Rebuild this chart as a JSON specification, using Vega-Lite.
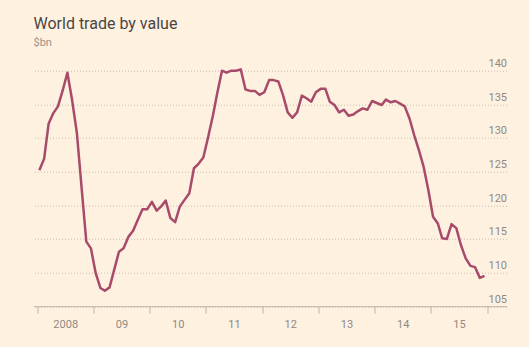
{
  "$schema": "https://vega.github.io/schema/vega-lite/v6.json",
  "width": 473,
  "height": 235.5,
  "autosize": {"type": "none"},
  "padding": {"left": 33.5, "top": 70.7, "right": 22.5, "bottom": 40.8},
  "background": "#FFF1E0",
  "title": {
    "text": "World trade by value",
    "subtitle": "$bn",
    "anchor": "start",
    "frame": "group",
    "font": "Roboto",
    "fontSize": 16,
    "fontWeight": "normal",
    "color": "#4a4643",
    "subtitleFont": "Roboto",
    "subtitleFontSize": 11,
    "subtitleColor": "#9a938c",
    "subtitlePadding": 5,
    "offset": 10
  },
  "config": {
    "view": {"stroke": null},
    "axis": {"labelFont": "Roboto", "labelFontSize": 11, "labelColor": "#8e8984"}
  },
  "data": {
    "values": [
      {"date": "2008-01-15", "value": 125.2},
      {"date": "2008-02-15", "value": 126.9},
      {"date": "2008-03-15", "value": 132.1},
      {"date": "2008-04-15", "value": 133.7},
      {"date": "2008-05-15", "value": 134.7},
      {"date": "2008-06-15", "value": 137.1},
      {"date": "2008-07-15", "value": 139.7},
      {"date": "2008-08-15", "value": 135.6},
      {"date": "2008-09-15", "value": 130.7},
      {"date": "2008-10-15", "value": 122.7},
      {"date": "2008-11-15", "value": 114.6},
      {"date": "2008-12-15", "value": 113.6},
      {"date": "2009-01-15", "value": 109.9},
      {"date": "2009-02-15", "value": 107.7},
      {"date": "2009-03-15", "value": 107.3},
      {"date": "2009-04-15", "value": 107.8},
      {"date": "2009-05-15", "value": 110.4},
      {"date": "2009-06-15", "value": 113.1},
      {"date": "2009-07-15", "value": 113.6},
      {"date": "2009-08-15", "value": 115.3},
      {"date": "2009-09-15", "value": 116.2},
      {"date": "2009-10-15", "value": 117.8},
      {"date": "2009-11-15", "value": 119.4},
      {"date": "2009-12-15", "value": 119.4},
      {"date": "2010-01-15", "value": 120.5},
      {"date": "2010-02-15", "value": 119.2},
      {"date": "2010-03-15", "value": 119.8},
      {"date": "2010-04-15", "value": 120.7},
      {"date": "2010-05-15", "value": 118.1},
      {"date": "2010-06-15", "value": 117.5},
      {"date": "2010-07-15", "value": 119.8},
      {"date": "2010-08-15", "value": 120.8},
      {"date": "2010-09-15", "value": 121.8},
      {"date": "2010-10-15", "value": 125.5},
      {"date": "2010-11-15", "value": 126.2},
      {"date": "2010-12-15", "value": 127.1},
      {"date": "2011-01-15", "value": 130.1},
      {"date": "2011-02-15", "value": 133.3},
      {"date": "2011-03-15", "value": 136.6},
      {"date": "2011-04-15", "value": 140.0},
      {"date": "2011-05-15", "value": 139.7},
      {"date": "2011-06-15", "value": 140.0},
      {"date": "2011-07-15", "value": 140.0},
      {"date": "2011-08-15", "value": 140.2},
      {"date": "2011-09-15", "value": 137.2},
      {"date": "2011-10-15", "value": 137.0},
      {"date": "2011-11-15", "value": 137.0},
      {"date": "2011-12-15", "value": 136.4},
      {"date": "2012-01-15", "value": 136.8},
      {"date": "2012-02-15", "value": 138.6},
      {"date": "2012-03-15", "value": 138.6},
      {"date": "2012-04-15", "value": 138.4},
      {"date": "2012-05-15", "value": 136.4},
      {"date": "2012-06-15", "value": 133.8},
      {"date": "2012-07-15", "value": 133.0},
      {"date": "2012-08-15", "value": 133.8},
      {"date": "2012-09-15", "value": 136.3},
      {"date": "2012-10-15", "value": 135.9},
      {"date": "2012-11-15", "value": 135.4},
      {"date": "2012-12-15", "value": 136.8},
      {"date": "2013-01-15", "value": 137.3},
      {"date": "2013-02-15", "value": 137.3},
      {"date": "2013-03-15", "value": 135.4},
      {"date": "2013-04-15", "value": 134.9},
      {"date": "2013-05-15", "value": 133.8},
      {"date": "2013-06-15", "value": 134.2},
      {"date": "2013-07-15", "value": 133.3},
      {"date": "2013-08-15", "value": 133.5},
      {"date": "2013-09-15", "value": 134.0},
      {"date": "2013-10-15", "value": 134.4},
      {"date": "2013-11-15", "value": 134.2},
      {"date": "2013-12-15", "value": 135.5},
      {"date": "2014-01-15", "value": 135.2},
      {"date": "2014-02-15", "value": 134.9},
      {"date": "2014-03-15", "value": 135.7},
      {"date": "2014-04-15", "value": 135.3},
      {"date": "2014-05-15", "value": 135.5},
      {"date": "2014-06-15", "value": 135.1},
      {"date": "2014-07-15", "value": 134.7},
      {"date": "2014-08-15", "value": 132.9},
      {"date": "2014-09-15", "value": 130.4},
      {"date": "2014-10-15", "value": 128.2},
      {"date": "2014-11-15", "value": 125.7},
      {"date": "2014-12-15", "value": 122.3},
      {"date": "2015-01-15", "value": 118.3},
      {"date": "2015-02-15", "value": 117.3},
      {"date": "2015-03-15", "value": 115.1},
      {"date": "2015-04-15", "value": 115.0},
      {"date": "2015-05-15", "value": 117.2},
      {"date": "2015-06-15", "value": 116.6},
      {"date": "2015-07-15", "value": 114.1},
      {"date": "2015-08-15", "value": 112.1},
      {"date": "2015-09-15", "value": 111.0},
      {"date": "2015-10-15", "value": 110.8},
      {"date": "2015-11-15", "value": 109.2},
      {"date": "2015-12-15", "value": 109.5}
    ]
  },
  "mark": {"type": "line", "color": "#a84b6b", "strokeWidth": 2.5, "strokeJoin": "round", "clip": false},
  "encoding": {
    "x": {
      "field": "date",
      "type": "temporal",
      "scale": {
        "type": "utc",
        "domain": [
          {"year": 2007, "month": 12, "date": 8, "utc": true},
          {"year": 2016, "month": 5, "date": 6, "utc": true}
        ]
      },
      "axis": {
        "title": null,
        "grid": false,
        "values": [
          {"year": 2008, "month": 1, "date": 1, "utc": true},
          {"year": 2009, "month": 1, "date": 1, "utc": true},
          {"year": 2010, "month": 1, "date": 1, "utc": true},
          {"year": 2011, "month": 1, "date": 1, "utc": true},
          {"year": 2012, "month": 1, "date": 1, "utc": true},
          {"year": 2013, "month": 1, "date": 1, "utc": true},
          {"year": 2014, "month": 1, "date": 1, "utc": true},
          {"year": 2015, "month": 1, "date": 1, "utc": true},
          {"year": 2016, "month": 1, "date": 1, "utc": true}
        ],
        "labelExpr": "utcyear(datum.value) == 2008 ? '2008' : (utcyear(datum.value) == 2016 ? '' : utcFormat(datum.value, '%y'))",
        "labelOffset": 28,
        "labelAlign": "center",
        "labelPadding": 5,
        "labelFlush": false,
        "labelOverlap": false,
        "tickSize": 7,
        "tickColor": "#bdb6ab",
        "domainColor": "#bdb6ab",
        "domainWidth": 1
      }
    },
    "y": {
      "field": "value",
      "type": "quantitative",
      "scale": {"domain": [105, 140], "nice": false, "zero": false},
      "axis": {
        "title": null,
        "orient": "right",
        "values": [105, 110, 115, 120, 125, 130, 135, 140],
        "domain": false,
        "ticks": false,
        "tickSize": 0,
        "labelAlign": "right",
        "labelBaseline": "bottom",
        "labelPadding": 0,
        "labelOffset": -2,
        "grid": true,
        "gridColor": "#c9bfb2",
        "gridDash": [1, 2],
        "gridWidth": 1
      }
    }
  }
}
